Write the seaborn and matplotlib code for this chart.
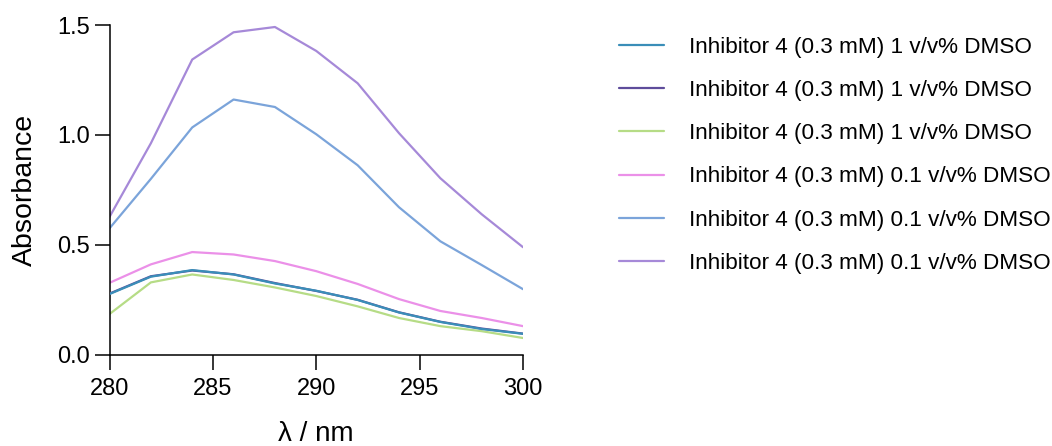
import matplotlib
matplotlib.use("Agg")
import matplotlib.pyplot as plt
import seaborn as sns
import pandas as pd

# Wavelengths (nm)
wavelength = [280, 282, 284, 286, 288, 290, 292, 294, 296, 298, 300]

# Absorbance spectra, Inhibitor 4 (0.3 mM)
dmso1_a = [0.276, 0.355, 0.385, 0.365, 0.324, 0.291, 0.249, 0.192, 0.149, 0.117, 0.095]
dmso1_b = [0.278, 0.357, 0.383, 0.366, 0.326, 0.290, 0.250, 0.193, 0.150, 0.119, 0.096]
dmso1_c = [0.185, 0.329, 0.365, 0.340, 0.306, 0.267, 0.220, 0.167, 0.130, 0.107, 0.076]
dmso01_a = [0.327, 0.411, 0.467, 0.456, 0.426, 0.380, 0.322, 0.253, 0.199, 0.167, 0.130]
dmso01_b = [0.575, 0.800, 1.034, 1.161, 1.127, 1.003, 0.862, 0.671, 0.516, 0.408, 0.298]
dmso01_c = [0.627, 0.962, 1.343, 1.467, 1.491, 1.382, 1.235, 1.008, 0.803, 0.639, 0.489]

labels = [
    "Inhibitor 4 (0.3 mM) 1 v/v% DMSO",
    "Inhibitor 4 (0.3 mM) 1 v/v% DMSO",
    "Inhibitor 4 (0.3 mM) 1 v/v% DMSO",
    "Inhibitor 4 (0.3 mM) 0.1 v/v% DMSO",
    "Inhibitor 4 (0.3 mM) 0.1 v/v% DMSO",
    "Inhibitor 4 (0.3 mM) 0.1 v/v% DMSO",
]
series = [dmso1_a, dmso1_b, dmso1_c, dmso01_a, dmso01_b, dmso01_c]
colors = ["#3A8EB8", "#5E4C9B", "#B6DC86", "#EB90E8", "#7BA4DA", "#A689D8"]
zorders = [4, 3, 2, 2, 2, 2]

sns.set_style("ticks")
plt.rcParams["font.family"] = ["Liberation Sans", "DejaVu Sans"]
plt.rcParams["text.color"] = "black"
plt.rcParams["axes.labelcolor"] = "black"

fig = plt.figure(figsize=(10.52, 4.46), dpi=100)
ax = fig.add_axes([0.1041, 0.2047, 0.3931, 0.7392])

for vals, lab, col, z in zip(series, labels, colors, zorders):
    df = pd.DataFrame({"wavelength": wavelength, "absorbance": vals})
    sns.lineplot(data=df, x="wavelength", y="absorbance", ax=ax,
                 color=col, linewidth=1.6, label=lab, zorder=z)

ax.set_xlim(280, 300)
ax.set_ylim(0, 1.5)
ax.set_xticks([280, 285, 290, 295, 300])
ax.set_yticks([0.0, 0.5, 1.0, 1.5])
ax.set_yticklabels(["0.0", "0.5", "1.0", "1.5"])

for side in ("top", "right"):
    ax.spines[side].set_visible(False)
for side in ("left", "bottom"):
    ax.spines[side].set_linewidth(1.1)
    ax.spines[side].set_color("black")

ax.tick_params(axis="both", direction="out", length=11, width=1.1,
               color="black", labelsize=17, labelcolor="black")
ax.tick_params(axis="x", pad=6)
ax.tick_params(axis="y", pad=3)

ax.set_xlabel("λ / nm", fontsize=20, labelpad=15)
ax.set_ylabel("Absorbance", fontsize=20.5, labelpad=14)

handles, labs = ax.get_legend_handles_labels()
ax.get_legend().remove()
fig.legend(handles, labs, loc="upper left", bbox_to_anchor=(0.5884, 0.918),
           frameon=False, fontsize=16.2, handlelength=2.0, handletextpad=1.1,
           labelspacing=0.99, borderpad=0, borderaxespad=0)

fig.savefig("out.png", dpi=100)
